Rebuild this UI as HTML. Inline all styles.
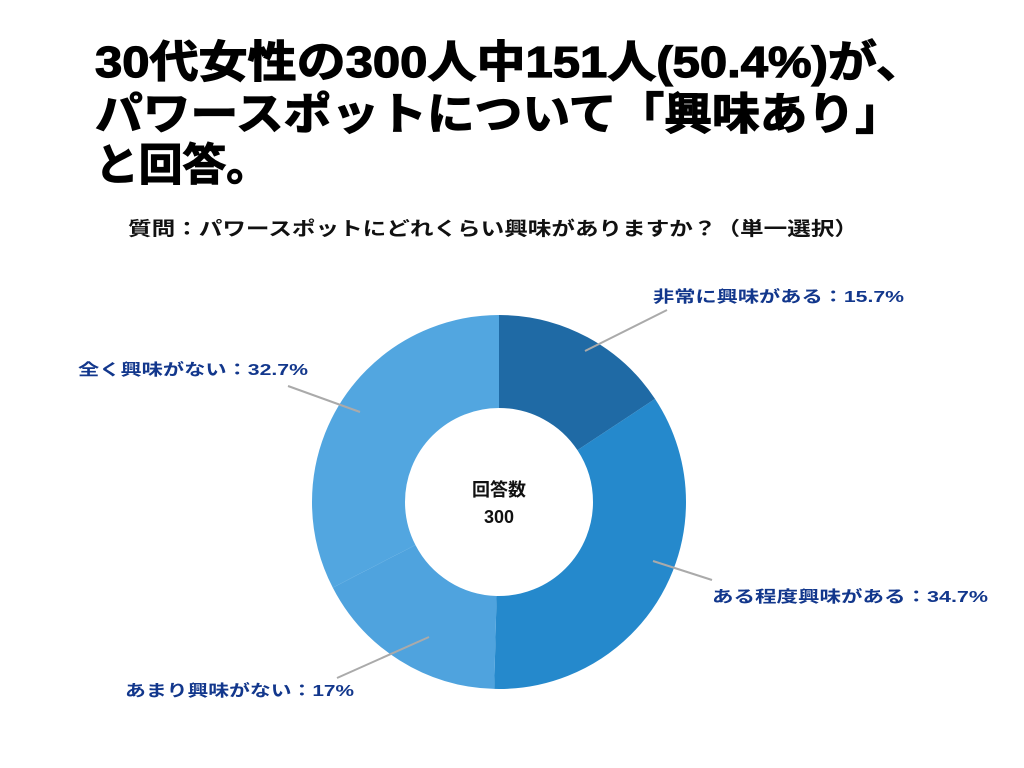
<!DOCTYPE html>
<html><head><meta charset="utf-8"><style>
body{margin:0;background:#fff;}
svg{display:block}
text{font-family:"Liberation Sans","Noto Sans CJK JP",sans-serif;font-weight:bold}
</style></head><body>
<svg width="1024" height="768" viewBox="0 0 1024 768">
<rect width="1024" height="768" fill="#fff"/>
<g font-size="44" fill="#000" stroke="#000" stroke-width="1.2">
<text x="95" y="77" textLength="830" lengthAdjust="spacingAndGlyphs">30代女性の300人中151人(50.4%)が、</text>
<text x="95" y="129" textLength="808" lengthAdjust="spacingAndGlyphs">パワースポットについて「興味あり」</text>
<text x="95" y="180" textLength="175" lengthAdjust="spacingAndGlyphs">と回答。</text>
</g>
<text x="128" y="235" font-size="19" fill="#111" textLength="730" lengthAdjust="spacingAndGlyphs">質問：パワースポットにどれくらい興味がありますか？（単一選択）</text>
<g transform="rotate(-90 499 502)" fill="none" stroke-width="93">
<circle cx="499" cy="502" r="140.5" stroke="#1f6aa5" stroke-dasharray="138.6 1000" stroke-dashoffset="0"/>
<circle cx="499" cy="502" r="140.5" stroke="#2589cc" stroke-dasharray="306.3 1000" stroke-dashoffset="-138.6"/>
<circle cx="499" cy="502" r="140.5" stroke="#4fa3de" stroke-dasharray="150.1 1000" stroke-dashoffset="-444.9"/>
<circle cx="499" cy="502" r="140.5" stroke="#52a6e0" stroke-dasharray="288.7 1000" stroke-dashoffset="-595"/>
</g>
<text x="499" y="496" font-size="18" text-anchor="middle" fill="#111">回答数</text>
<text x="499" y="523" font-size="18" text-anchor="middle" fill="#111">300</text>
<g stroke="#aaa" stroke-width="2">
<line x1="585" y1="351" x2="667" y2="310"/>
<line x1="360" y1="412" x2="288" y2="386"/>
<line x1="653" y1="561" x2="712" y2="580"/>
<line x1="429" y1="637" x2="337" y2="678"/>
</g>
<g font-size="16" fill="#12378c">
<text x="653" y="302" textLength="251" lengthAdjust="spacingAndGlyphs">非常に興味がある：15.7%</text>
<text x="78" y="375" textLength="230" lengthAdjust="spacingAndGlyphs">全く興味がない：32.7%</text>
<text x="712" y="602" textLength="276" lengthAdjust="spacingAndGlyphs">ある程度興味がある：34.7%</text>
<text x="125" y="696" textLength="229" lengthAdjust="spacingAndGlyphs">あまり興味がない：17%</text>
</g>
</svg>
</body></html>
